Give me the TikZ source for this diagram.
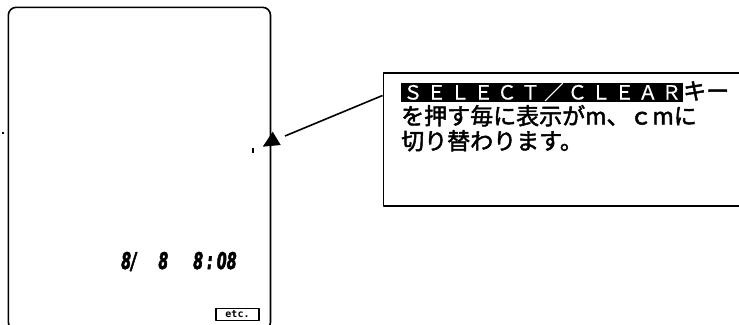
\documentclass[tikz,border=0pt]{standalone}
\usepackage{fontspec}
\usepackage{graphicx}
\newfontfamily\jp{Noto Sans CJK JP}[FakeBold=2]
\newfontfamily\jpthin{Noto Sans CJK JP}[FakeBold=0.5]
\newfontfamily\segfont{DejaVu Sans}[FakeBold=3]
\newfontfamily\etcfont{DejaVu Sans Mono}
\newcommand\narrowseg[1]{\scalebox{0.62}[1]{#1}}
\newcommand\cellch[1]{\makebox[23.5pt][c]{#1}}
\def\spacedtext#1{\spacedtexti#1\relax}
\def\spacedtexti#1{\ifx#1\relax\else\cellch{#1}\expandafter\spacedtexti\fi}
\begin{document}
\begin{tikzpicture}[x=1pt,y=-1pt,line join=round,
  framebox/.style={line width=1.6pt, rounded corners=8pt},
  calloutbox/.style={draw, line width=1.6pt, minimum width=370pt, minimum height=133pt, anchor=north west, inner sep=0pt},
  jptext/.style={anchor=base west, inner sep=0pt, font=\jp\fontsize{23}{25}\selectfont},
  hl/.style={anchor=base west, inner sep=0pt, fill=black, text=white, text height=16.2pt, text depth=2.2pt, font=\jpthin\fontsize{19.5}{20}\selectfont},
  digits/.style={anchor=base west, inner sep=0pt, font=\segfont\bfseries\itshape\fontsize{23}{23}\selectfont},
  etcbox/.style={draw, line width=1.2pt, minimum width=43pt, minimum height=11.5pt, inner sep=0pt, font=\etcfont\bfseries\fontsize{10}{10}\selectfont},
  leader/.style={line width=1.6pt}
]
\useasboundingbox (0,0) rectangle (739,324);
% display frame
\draw[framebox] (8.3,330) rectangle (270.5,7.3);
% indicator triangle and decimal dot
\fill (272.7,131.7) -- (262.7,146.7) -- (280.7,145) -- cycle;
\fill (251.5,147.5) rectangle (253.7,152.5);
\fill (2,132) rectangle (4,134);
% date / time
\node[digits] (date) at (121,269) {\narrowseg{8/}\hspace{22pt}\narrowseg{8}};
\node[digits] (time) at (193,269) {\narrowseg{8}\hspace{4pt}\narrowseg{:}\hspace{4pt}\narrowseg{08}};
\node[etcbox] (etc) at (237.5,314.5) {etc.};
% callout
\node[calloutbox] (callout) at (382.5,72.3) {};
\node[hl] (sel) at (401,99.5) {\spacedtext{ＳＥＬＥＣＴ／ＣＬＥＡＲ}};
\node[jptext] (key) at (401+282,124.5-25) {キー};
\node[jptext] (l2) at (401,124.5) {を押す毎に表示がm、ｃmに};
\node[jptext] (l3) at (401,149.5) {切り替わります。};
% leader line
\coordinate (ptr) at (285,136);
\coordinate (lead) at (382.5,95.5);
\draw[leader] (lead) -- (ptr);
\end{tikzpicture}
\end{document}
